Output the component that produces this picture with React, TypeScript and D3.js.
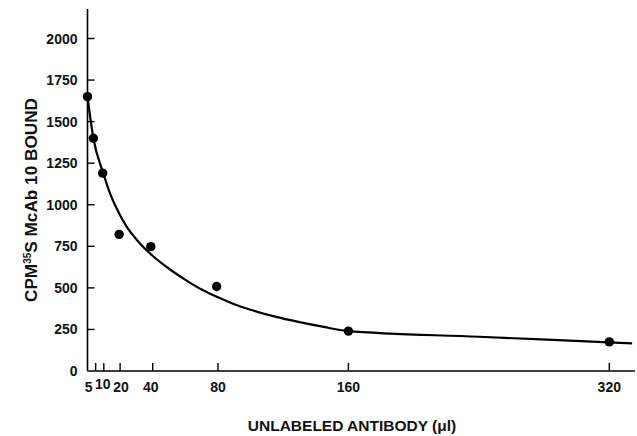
import React, { useEffect, useRef } from "react";
import * as d3 from "d3";

// Measured data points (unlabeled antibody µl vs CPM bound)
const pointX = [0, 3.6, 9.3, 19.4, 38.8, 79.2, 160, 320];
const pointY = [1650, 1400, 1190, 822, 748, 508, 240, 175];

// Fitted curve
const curveX = [0, 3.6, 9.7, 13.8, 18.9, 24, 31.2, 39.4, 49.6, 59.8, 70, 80, 90, 100, 115, 130, 145, 159, 240, 320, 334];
const curveY = [1650, 1400, 1189, 1069, 958, 868, 778, 698, 618, 550, 490, 443, 402, 368, 327, 294, 265, 241, 206, 172, 166];

const xTicks = [5, 10, 20, 40, 80, 160, 320];
const xTickLabels = ["5", "10", "20", "40", "80", "160", "320"];
const yTicks = [0, 250, 500, 750, 1000, 1250, 1500, 1750, 2000];

const W = 637;
const H = 436;
const FONT = "'Liberation Sans', Arial, Helvetica, sans-serif";

export default function App() {
  const ref = useRef<SVGSVGElement>(null);

  useEffect(() => {
    document.body.style.margin = "0";
    const svg = d3.select(ref.current);
    svg.selectAll("*").remove();

    const x = d3.scaleLinear().domain([0, 320]).range([87.5, 609.3]);
    const y = d3.scaleLinear().domain([0, 2000]).range([371, 38.5]);
    const xMax = x.invert(635);
    const yMax = y.invert(9);

    const g = svg.append("g");

    // axes lines
    g.append("line")
      .attr("x1", x(0)).attr("x2", x(xMax))
      .attr("y1", y(0)).attr("y2", y(0))
      .attr("stroke", "#000").attr("stroke-width", 1.6);
    g.append("line")
      .attr("x1", x(0)).attr("x2", x(0))
      .attr("y1", y(0)).attr("y2", y(yMax))
      .attr("stroke", "#000").attr("stroke-width", 1.6);

    // y ticks (inward)
    yTicks.forEach((t) => {
      if (t > 0) {
        g.append("line")
          .attr("x1", x(0)).attr("x2", x(0) + 7)
          .attr("y1", y(t)).attr("y2", y(t))
          .attr("stroke", "#000").attr("stroke-width", 1.4);
      }
      g.append("text")
        .attr("x", 77.5)
        .attr("y", y(t) + 5)
        .attr("text-anchor", "end")
        .attr("font-family", FONT)
        .attr("font-weight", "bold")
        .attr("font-size", 14)
        .attr("fill", "#111")
        .text(String(t));
    });

    // x ticks (inward)
    const labelDx: Record<string, number> = { "5": -7, "10": -1, "20": 1, "40": -2 };
    const labelDy: Record<string, number> = { "10": -3 };
    xTicks.forEach((t, i) => {
      g.append("line")
        .attr("x1", x(t)).attr("x2", x(t))
        .attr("y1", y(0)).attr("y2", y(0) - 8)
        .attr("stroke", "#000").attr("stroke-width", 1.4);
      const lab = xTickLabels[i];
      g.append("text")
        .attr("x", x(t) + (labelDx[lab] || 0))
        .attr("y", 392 + (labelDy[lab] || 0))
        .attr("text-anchor", "middle")
        .attr("font-family", FONT)
        .attr("font-weight", "bold")
        .attr("font-size", 14)
        .attr("fill", "#111")
        .text(lab);
    });

    // curve
    const curveData = curveX.map((cx, i) => [cx, curveY[i]] as [number, number]);
    const line = d3.line<[number, number]>()
      .x((d) => x(d[0]))
      .y((d) => y(d[1]))
      .curve(d3.curveMonotoneX);
    g.append("path")
      .attr("d", line(curveData) || "")
      .attr("fill", "none")
      .attr("stroke", "#000")
      .attr("stroke-width", 2.2);

    // points
    pointX.forEach((px, i) => {
      g.append("circle")
        .attr("cx", x(px))
        .attr("cy", y(pointY[i]))
        .attr("r", 4.7)
        .attr("fill", "#000");
    });

    // x title
    g.append("text")
      .attr("x", 352)
      .attr("y", 431)
      .attr("text-anchor", "middle")
      .attr("font-family", FONT)
      .attr("font-weight", "bold")
      .attr("font-size", 15.5)
      .attr("fill", "#111")
      .text("UNLABELED ANTIBODY (μl)");

    // y title
    const yt = g.append("text")
      .attr("transform", "translate(37,200) rotate(-90)")
      .attr("text-anchor", "middle")
      .attr("font-family", FONT)
      .attr("font-weight", "bold")
      .attr("font-size", 17.2)
      .attr("fill", "#111");
    yt.append("tspan").text("CPM");
    yt.append("tspan").attr("font-size", 10).attr("dy", -6).text("35");
    yt.append("tspan").attr("dy", 6).text("S McAb 10 BOUND");
  }, []);

  return <svg ref={ref} width={W} height={H} style={{ display: "block", background: "#fff" }} />;
}
